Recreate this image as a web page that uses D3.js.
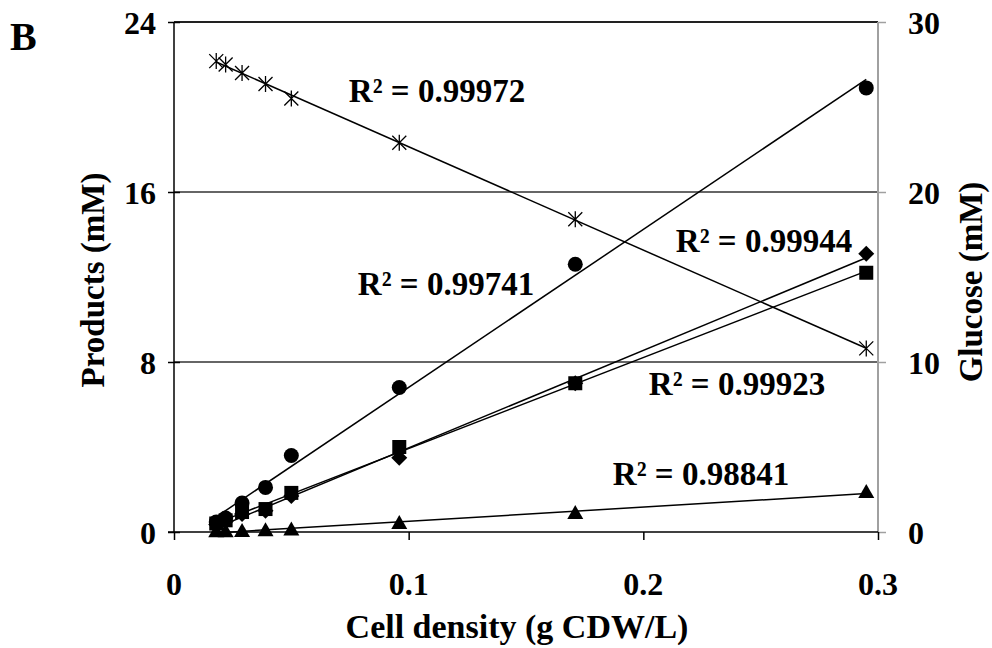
<!DOCTYPE html>
<html>
<head>
<meta charset="utf-8">
<script src="https://cdn.jsdelivr.net/npm/d3@7"></script>
<style>
  html, body { margin: 0; padding: 0; background: #fff; }
  text { font-family: "Liberation Serif", "Times New Roman", serif; font-weight: bold; fill: #000; }
</style>
</head>
<body>
<svg id="chart" width="992" height="648"></svg>
<script>
// ---- Data ----
const cellDensity = [0.018, 0.022, 0.029, 0.039, 0.050, 0.096, 0.171, 0.295];
const productCircle = [0.47, 0.66, 1.36, 2.10, 3.60, 6.80, 12.60, 20.90];
const productDiamond = [0.35, 0.50, 0.85, 1.00, 1.70, 3.50, 7.00, 13.10];
const productSquare = [0.40, 0.55, 0.94, 1.08, 1.84, 4.00, 7.00, 12.20];
const productTriangle = [0.03, 0.04, 0.05, 0.08, 0.12, 0.42, 0.89, 1.88];
const glucose = [27.7, 27.5, 27.0, 26.35, 25.5, 22.9, 18.4, 10.8];

const xTicks = [0, 0.1, 0.2, 0.3];
const xTickLabels = ["0", "0.1", "0.2", "0.3"];
const yLeftTicks = [0, 8, 16, 24];
const yRightTicks = [0, 10, 20, 30];

const r2Labels = ["R² = 0.99972", "R² = 0.99741", "R² = 0.99944", "R² = 0.99923", "R² = 0.98841"];

// ---- Layout ----
const svg = d3.select("#chart");
const pLeft = 174, pRight = 878, pTop = 22, pBottom = 532;

const x = d3.scaleLinear().domain([0, 0.3]).range([pLeft, pRight]);
const yL = d3.scaleLinear().domain([0, 24]).range([pBottom, pTop]);
const yR = d3.scaleLinear().domain([0, 30]).range([pBottom, pTop]);

svg.append("rect").attr("width", 992).attr("height", 648).attr("fill", "#fff");

// gridlines
svg.append("g").selectAll("line").data(yLeftTicks.filter(d => d > 0)).join("line")
  .attr("x1", pLeft).attr("x2", pRight)
  .attr("y1", d => yL(d)).attr("y2", d => yL(d))
  .attr("stroke", d => d === 24 ? "#222" : "#333")
  .attr("stroke-width", d => d === 24 ? 2 : 1.5);

// right axis (gray)
const rightAxis = d3.axisRight(yR).tickValues(yRightTicks).tickSize(8).tickFormat("");
const gR = svg.append("g").attr("transform", `translate(${pRight},0)`).call(rightAxis);
gR.select(".domain").attr("stroke", "#a0a0a0").attr("stroke-width", 2).attr("d", `M0,${pTop}V${pBottom}`);
gR.selectAll(".tick line").attr("stroke", "#a0a0a0").attr("stroke-width", 1.5);
svg.append("g").selectAll("text").data(yRightTicks).join("text")
  .attr("x", 908).attr("y", d => yR(d)).attr("dy", "0.36em")
  .attr("font-size", 32).text(d => d);

// left axis
const leftAxis = d3.axisLeft(yL).tickValues(yLeftTicks).tickSize(6).tickFormat("");
const gL = svg.append("g").attr("transform", `translate(${pLeft},0)`).call(leftAxis);
gL.select(".domain").attr("stroke", "#000").attr("stroke-width", 1.5).attr("d", `M0,${pTop}V${pBottom}`);
gL.selectAll(".tick line").attr("stroke", "#000").attr("stroke-width", 1.5).attr("x1", 6).attr("x2", -6);
svg.append("g").selectAll("text").data(yLeftTicks).join("text")
  .attr("x", 156).attr("y", d => yL(d)).attr("dy", "0.36em")
  .attr("text-anchor", "end").attr("font-size", 32).text(d => d);

// bottom axis
const bottomAxis = d3.axisBottom(x).tickValues(xTicks).tickSize(8).tickFormat("");
const gB = svg.append("g").attr("transform", `translate(0,${pBottom})`).call(bottomAxis);
gB.select(".domain").attr("stroke", "#000").attr("stroke-width", 1.5).attr("d", `M${pLeft - 6},0H${pRight}`);
gB.selectAll(".tick line").attr("stroke", "#000").attr("stroke-width", 1.5);
svg.append("g").selectAll("text").data(xTicks).join("text")
  .attr("x", d => x(d)).attr("y", 595)
  .attr("text-anchor", "middle").attr("font-size", 32)
  .text((d, i) => xTickLabels[i]);

// titles
svg.append("text").attr("x", 517).attr("y", 638).attr("text-anchor", "middle")
  .attr("font-size", 34).text("Cell density (g CDW/L)");
svg.append("text").attr("transform", "translate(104,280) rotate(-90)").attr("text-anchor", "middle")
  .attr("font-size", 33).text("Products (mM)");
svg.append("text").attr("transform", "translate(982,282) rotate(-90)").attr("text-anchor", "middle")
  .attr("font-size", 33).text("Glucose (mM)");
svg.append("text").attr("x", 10).attr("y", 50).attr("font-size", 40).text("B");

// ---- Trend lines (least-squares fits) ----
function fit(xs, ys) {
  const n = xs.length, mx = d3.mean(xs), my = d3.mean(ys);
  let sxy = 0, sxx = 0;
  for (let i = 0; i < n; i++) { sxy += (xs[i] - mx) * (ys[i] - my); sxx += (xs[i] - mx) ** 2; }
  const b = sxy / sxx, a = my - b * mx;
  return v => a + b * v;
}
const x0 = d3.min(cellDensity), x1 = d3.max(cellDensity);
const seriesDefs = [
  { ys: productCircle, scale: yL },
  { ys: productDiamond, scale: yL },
  { ys: productSquare, scale: yL },
  { ys: productTriangle, scale: yL },
  { ys: glucose, scale: yR }
];
const lineG = svg.append("g");
seriesDefs.forEach(s => {
  const f = fit(cellDensity, s.ys);
  lineG.append("line")
    .attr("x1", x(x0)).attr("y1", s.scale(f(x0)))
    .attr("x2", x(x1)).attr("y2", s.scale(f(x1)))
    .attr("stroke", "#000").attr("stroke-width", 1.5);
});

// ---- Markers ----
const mk = svg.append("g");
const pts = ys => cellDensity.map((v, i) => [v, ys[i]]);

mk.selectAll(".tri").data(pts(productTriangle)).join("path")
  .attr("d", d => { const cx = x(d[0]), cy = yL(d[1]); return `M${cx},${cy - 8}L${cx + 8},${cy + 6}L${cx - 8},${cy + 6}Z`; })
  .attr("fill", "#000");
mk.selectAll(".dia").data(pts(productDiamond)).join("path")
  .attr("d", d => { const cx = x(d[0]), cy = yL(d[1]); return `M${cx},${cy - 8}L${cx + 8},${cy}L${cx},${cy + 8}L${cx - 8},${cy}Z`; })
  .attr("fill", "#000");
mk.selectAll(".sq").data(pts(productSquare)).join("rect")
  .attr("x", d => x(d[0]) - 7).attr("y", d => yL(d[1]) - 7)
  .attr("width", 14).attr("height", 14).attr("fill", "#000");
mk.selectAll(".circ").data(pts(productCircle)).join("circle")
  .attr("cx", d => x(d[0])).attr("cy", d => yL(d[1])).attr("r", 7.5).attr("fill", "#000");
mk.selectAll(".star").data(pts(glucose)).join("path")
  .attr("d", d => { const cx = x(d[0]), cy = yR(d[1]); const s = 7;
    return `M${cx - s},${cy - s}L${cx + s},${cy + s}M${cx - s},${cy + s}L${cx + s},${cy - s}M${cx},${cy - s - 1}V${cy + s + 1}`; })
  .attr("stroke", "#000").attr("stroke-width", 1.3).attr("fill", "none");

// ---- R² labels ----
const r2Pos = [[437, 102], [446, 295], [764, 252], [737, 395], [701, 485]];
svg.append("g").selectAll("text").data(r2Labels).join("text")
  .attr("x", (d, i) => r2Pos[i][0]).attr("y", (d, i) => r2Pos[i][1])
  .attr("text-anchor", "middle").attr("font-size", 33).text(d => d);
</script>
</body>
</html>
